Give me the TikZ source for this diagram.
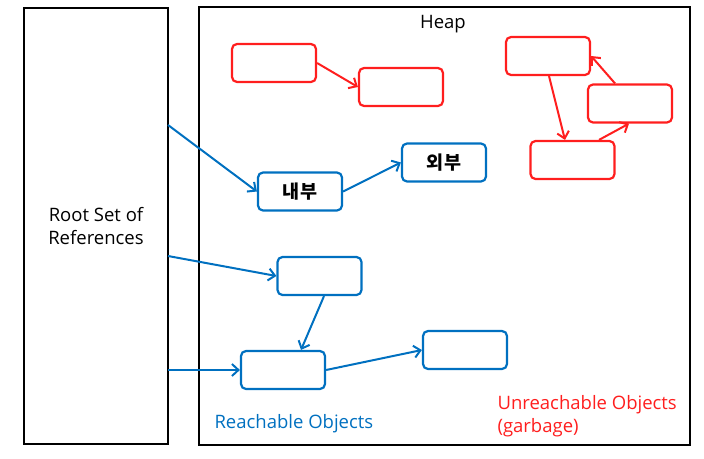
\documentclass[tikz,border=0pt]{standalone}
\usepackage{fontspec}
\setmainfont{Open Sans}
\newfontfamily\kofont{Noto Sans CJK KR}
\usetikzlibrary{arrows.meta}
\definecolor{objblue}{RGB}{0,112,192}
\definecolor{objred}{RGB}{255,30,30}
\begin{document}
\begin{tikzpicture}[x=1pt,y=-1pt,
	obj/.style={draw, rounded corners=5pt, line width=2.2pt, minimum width=84pt, minimum height=38pt, inner sep=0pt},
	live/.style={obj, draw=objblue},
	dead/.style={obj, draw=objred},
	ref/.style={line width=2pt, -{Straight Barb[length=6.5pt,width=12pt]}},
	txt/.style={font=\fontsize{18.5}{23}\selectfont}]
\useasboundingbox (0,0) rectangle (704,458);
	\node[draw, line width=2.6pt, minimum width=144pt, minimum height=436pt, txt, align=center] (root) at (96,226) {Root Set of\\References};
	\node[draw, line width=2.6pt, minimum width=491pt, minimum height=438pt] (heap) at (444.5,226) {};
	\node[txt] (heaplbl) at (443,24) {Heap};
	\node[dead] (r1) at (274,63) {};
	\node[dead] (r2) at (401,87) {};
	\node[dead] (r3) at (548,56) {};
	\node[dead] (r4) at (630,103.5) {};
	\node[dead] (r5) at (572.5,160) {};
	\node[live, font=\kofont\bfseries\fontsize{18.5}{20}\selectfont] (in) at (300,191.5) {내부};
	\node[live, font=\kofont\bfseries\fontsize{18.5}{20}\selectfont] (out) at (444,162.5) {외부};
	\node[live] (b3) at (319.5,276) {};
	\node[live] (b4) at (283,370) {};
	\node[live] (b5) at (465,350) {};
	\node[txt, text=objblue, anchor=west] (reach) at (211,424) {Reachable Objects};
	\node[txt, text=objred, anchor=west, align=left] (unreach) at (494,416) {Unreachable Objects\\(garbage)};
	\coordinate (s1) at (168,125);
	\coordinate (s2) at (168,256);
	\coordinate (s3) at (168,370);
\draw[ref, objblue] (s1)--(in.west);
\draw[ref, objblue] (s2)--(b3.west);
\draw[ref, objblue] (s3)--(b4.west);
\draw[ref, objblue] ([xshift=4.5pt]b3.south)--([xshift=18pt]b4.north);
\draw[ref, objblue] (b4.east)--(b5.west);
\draw[ref, objblue] (in.east)--(out.west);
\draw[ref, objred] (r1.east)--(r2.west);
\draw[ref, objred] ([xshift=1pt]r3.south)--([xshift=-7.5pt]r5.north);
\draw[ref, objred] ([xshift=26.5pt]r5.north)--([xshift=-1pt]r4.south);
\draw[ref, objred] ([xshift=-15pt]r4.north)--(r3.east);
\end{tikzpicture}
\end{document}
